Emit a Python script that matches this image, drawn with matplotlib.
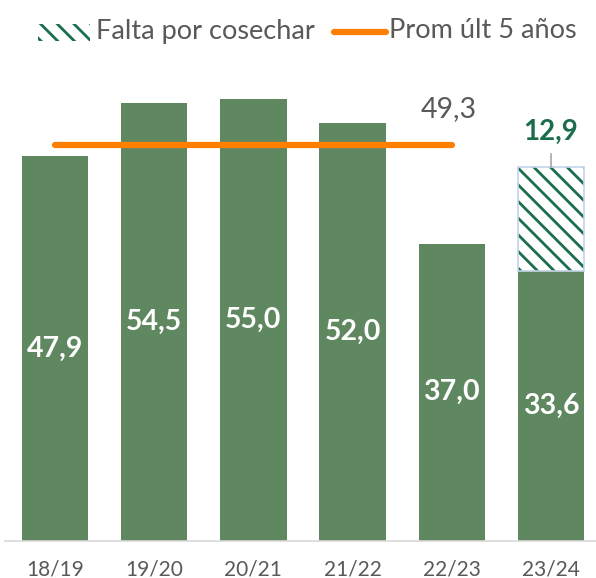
import numpy as np
import matplotlib
matplotlib.use("Agg")
import matplotlib.pyplot as plt
from matplotlib.patches import Rectangle
from matplotlib.lines import Line2D

seasons = ["18/19", "19/20", "20/21", "21/22", "22/23", "23/24"]
harvested = [47.9, 54.5, 55.0, 52.0, 37.0, 33.6]
pending = [0, 0, 0, 0, 0, 12.9]
avg_5y = 49.3

bar_color = "#5f8760"
hatch_color = "#1b6e4c"
orange = "#ff8000"
gray_text = "#595959"

plt.rcParams["font.family"] = ["Lato", "DejaVu Sans"]
plt.rcParams["hatch.linewidth"] = 2.0

fig = plt.figure(figsize=(5.96, 5.78), dpi=100)
ax = fig.add_axes([5.4 / 596, 37 / 578, 595.2 / 596, 482.4 / 578])

x = np.arange(len(seasons))
ax.bar(x, harvested, width=0.67, color=bar_color, zorder=2)

# pending part, hatched, only last season
last = len(seasons) - 1
ax.bar(x[last], pending[last], bottom=harvested[last], width=0.67,
       facecolor="white", edgecolor=hatch_color, hatch="\\\\", linewidth=0, zorder=2)
ax.bar(x[last], pending[last], bottom=harvested[last], width=0.67,
       facecolor="none", edgecolor="#c5d3ea", linewidth=1.2, zorder=3)

# 5 year average line (first five seasons)
ax.plot([x[0], x[4]], [avg_5y, avg_5y], color=orange, linewidth=4.5,
        solid_capstyle="round", zorder=4)
ax.text(3.97, 53.7, f"{avg_5y:.1f}".replace(".", ","), color=gray_text,
        fontsize=20.5, ha="center", va="center")

for xi, v in zip(x, harvested):
    ax.text(xi, v / 2, f"{v:.1f}".replace(".", ","), color="white",
            fontsize=20.5, fontweight="bold", ha="center", va="center", zorder=5)

top = harvested[last] + pending[last]
ax.plot([x[last], x[last]], [top, top + 1.6], color="#a6a6a6", linewidth=1.2, zorder=3)
ax.text(x[last], 50.9, f"{pending[last]:.1f}".replace(".", ","), color=hatch_color,
        fontsize=20, fontweight="bold", ha="center", va="center")

ax.set_xlim(-0.5, 5.5)
ax.set_ylim(0, 60)
ax.set_xticks(x)
ax.set_xticklabels(seasons, fontsize=15, color=gray_text)
ax.tick_params(axis="x", length=0, pad=13)
ax.set_yticks([])
for s in ["top", "right", "left"]:
    ax.spines[s].set_visible(False)
ax.spines["bottom"].set_color("#d9d9d9")
ax.spines["bottom"].set_linewidth(1.2)

# legend drawn by hand
fig.add_artist(Rectangle((38 / 596, (578 - 41) / 578), 52 / 596, 17 / 578,
                         transform=fig.transFigure, facecolor="white",
                         edgecolor=hatch_color, hatch="\\\\", linewidth=0))
fig.text(96 / 596, (578 - 31) / 578, "Falta por cosechar", fontsize=19.5,
         color=gray_text, ha="left", va="center")
fig.add_artist(Line2D([334 / 596, 386 / 596], [(578 - 32) / 578] * 2,
                      transform=fig.transFigure, color=orange, linewidth=4.5,
                      solid_capstyle="round"))
fig.text(389 / 596, (578 - 31) / 578, "Prom últ 5 años", fontsize=19.5,
         color=gray_text, ha="left", va="center")

fig.savefig("out.png", dpi=100)
